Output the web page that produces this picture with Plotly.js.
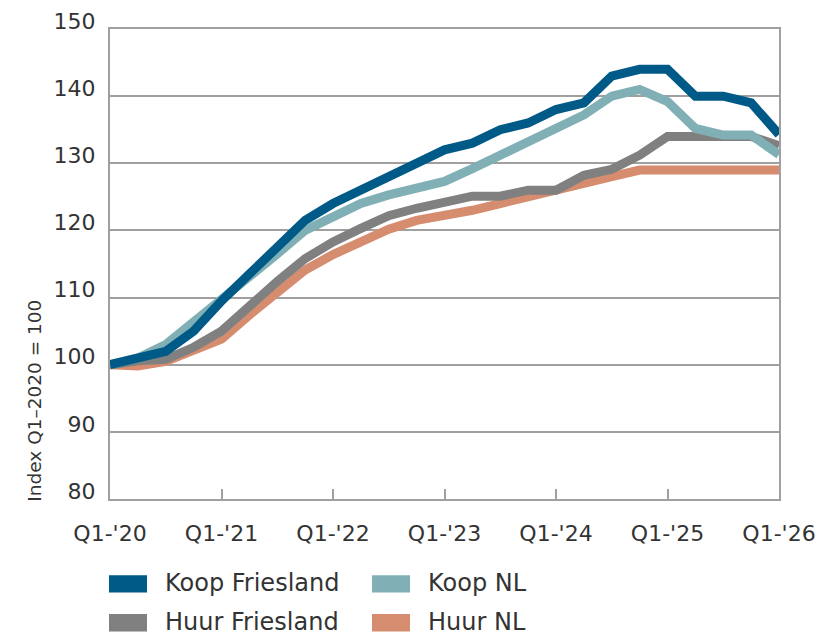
<!DOCTYPE html>
<html>
<head>
<meta charset="utf-8">
<script src="https://cdn.plot.ly/plotly-3.0.1.min.js"></script>
<style>html,body{margin:0;padding:0;background:#fff;}#chart{width:817px;height:637px;}</style>
</head>
<body>
<div id="chart"></div>
<script>
// Quarter index 0 = Q1-2020 ... 24 = Q1-2026
const quarters = Array.from({length: 25}, (_, i) => i);
const tickPositions = [0, 4, 8, 12, 16, 20, 24];
const tickLabels = ["Q1-'20", "Q1-'21", "Q1-'22", "Q1-'23", "Q1-'24", "Q1-'25", "Q1-'26"];

const koopFriesland = [100, 101, 102, 105, 109.5, 113.5, 117.5, 121.5, 124, 126, 128, 130, 132, 133, 135, 136, 138, 139, 143, 144, 144, 140, 140, 139, 134.3];
const koopNL        = [100, 101, 103, 106.3, 109.5, 113, 116.5, 120, 122, 124, 125.3, 126.3, 127.3, 129.2, 131.2, 133.2, 135.2, 137.2, 140, 141, 139.2, 135.2, 134.2, 134.2, 131.3];
const huurFriesland = [100, 100.6, 100.8, 102.6, 105, 108.9, 112.4, 115.8, 118.3, 120.3, 122.2, 123.3, 124.3, 125.1, 125.1, 126, 126, 128.2, 129.1, 131.2, 134, 134, 134, 134, 132.6];
const huurNL        = [100, 99.8, 100.5, 102, 103.8, 107.4, 110.9, 114.1, 116.4, 118.3, 120.2, 121.5, 122.2, 123, 124, 124.9, 126, 127, 128, 129, 129, 129, 129, 129, 129];

const seriesNames  = ["Koop Friesland", "Koop NL", "Huur Friesland", "Huur NL"];
const seriesColors = ["#005a87", "#80b0b5", "#808080", "#d68c6e"];

const FONT = "'DejaVu Sans', sans-serif";
const TXT = '#333333';
const mk = (y, idx) => ({
  x: quarters, y: y, type: 'scatter', mode: 'lines',
  name: seriesNames[idx], showlegend: false,
  line: {color: seriesColors[idx], width: 9, shape: 'linear'},
  hoverinfo: 'skip'
});
const data = [mk(huurNL, 3), mk(huurFriesland, 2), mk(koopNL, 1), mk(koopFriesland, 0)];

// plot area in pixels
const L = 110, R = 779, T = 28.75, B = 499.5;
const px = v => (v - L) / (R - L);
const py = v => (B - v) / (B - T);

// Legend (manual): [col x, row centre y]
const legendPos = [[109, 584.5], [372, 584.5], [109, 623.5], [372, 623.5]];
const shapes = [], annotations = [];
legendPos.forEach((p, i) => {
  shapes.push({type: 'rect', xref: 'paper', yref: 'paper',
    x0: px(p[0]), x1: px(p[0] + 38), y0: py(p[1] + 8.7), y1: py(p[1] - 8.7),
    fillcolor: seriesColors[i], line: {width: 0}});
  annotations.push({xref: 'paper', yref: 'paper', x: px(p[0] + 54), y: py(p[1] - 1),
    xanchor: 'left', yanchor: 'middle', showarrow: false, text: seriesNames[i],
    font: {family: FONT, size: 24, color: TXT}});
});
annotations.push({xref: 'paper', yref: 'paper', x: px(35), y: py(401),
  xanchor: 'center', yanchor: 'middle', showarrow: false, textangle: -90,
  text: 'Index Q1–2020 = 100', font: {family: FONT, size: 18.5, color: TXT}});

const layout = {
  width: 817, height: 637,
  margin: {l: L, r: 817 - R, t: T, b: 637 - B, pad: 0},
  paper_bgcolor: '#fff', plot_bgcolor: '#fff',
  font: {family: FONT, color: TXT},
  showlegend: false,
  xaxis: {
    range: [0, 24], tickvals: tickPositions, ticktext: tickLabels,
    showgrid: false, zeroline: false,
    showline: true, linecolor: '#a0a0a0', linewidth: 2, mirror: true,
    ticks: 'inside', ticklen: 10, tickwidth: 2, tickcolor: '#a0a0a0',
    ticklabelstandoff: 14,
    tickfont: {family: FONT, size: 22, color: TXT}
  },
  yaxis: {
    range: [80, 150], dtick: 10, tick0: 80,
    showgrid: true, gridcolor: '#a0a0a0', gridwidth: 2, zeroline: false,
    showline: true, linecolor: '#a0a0a0', linewidth: 2, mirror: true,
    ticks: '', ticklabelshift: -8, ticklabeloverflow: 'allow',
    ticklabelstandoff: 8,
    tickfont: {family: FONT, size: 22, color: TXT}
  },
  shapes: shapes,
  annotations: annotations
};

Plotly.newPlot('chart', data, layout, {displayModeBar: false, staticPlot: true});
</script>
</body>
</html>
